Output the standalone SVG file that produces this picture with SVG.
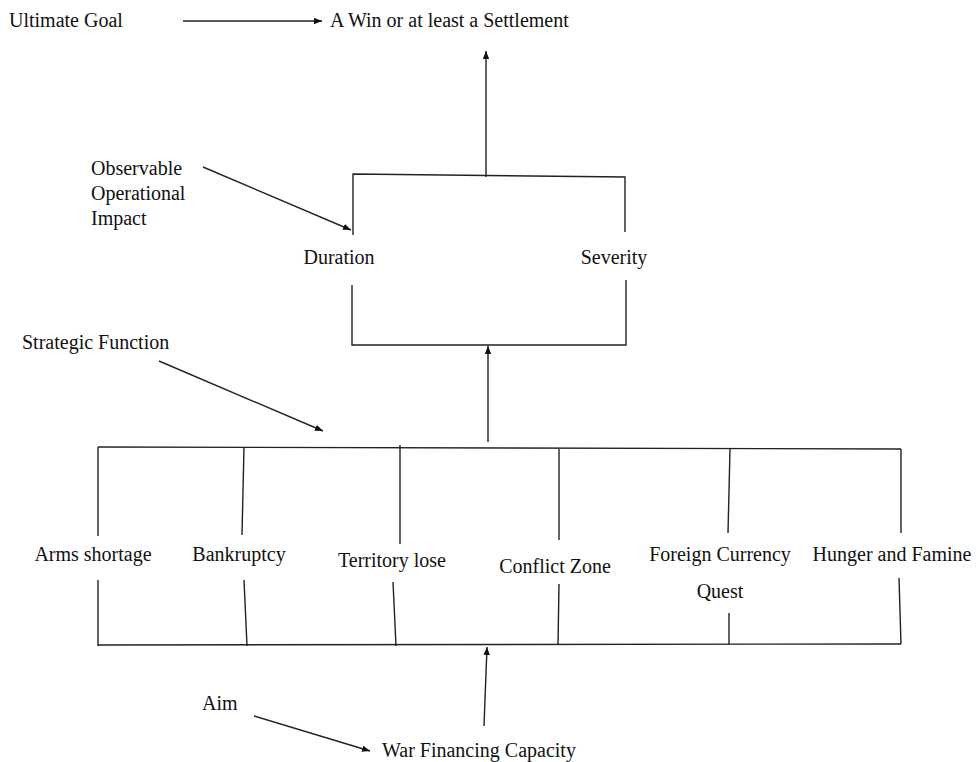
<svg xmlns="http://www.w3.org/2000/svg" width="978" height="762" viewBox="0 0 978 762">
<style>
text{font-family:"Liberation Serif","Times New Roman",serif;font-size:20px;fill:#111}
.c line,.c polyline{stroke:#222;stroke-width:1.4;fill:none}
.a{marker-end:url(#ah)}
</style>
<defs>
<marker id="ah" viewBox="0 0 10 8" refX="10" refY="4" markerWidth="8" markerHeight="6.4" markerUnits="userSpaceOnUse" orient="auto">
<path d="M0,0 L10,4 L0,8 Z" fill="#111"/>
</marker>
</defs>
<rect width="978" height="762" fill="#fff"/>
<g id="ultimate-goal"><text x="9" y="27">Ultimate Goal</text></g>
<g id="win"><text x="330" y="27">A Win or at least a Settlement</text></g>
<g id="observable"><text x="91" y="175">Observable</text><text x="91" y="200">Operational</text><text x="91" y="225">Impact</text></g>
<g id="duration"><text x="339" y="264" text-anchor="middle">Duration</text></g>
<g id="severity"><text x="614" y="264" text-anchor="middle">Severity</text></g>
<g id="strategic"><text x="22" y="349">Strategic Function</text></g>
<g id="arms"><text x="93" y="561" text-anchor="middle">Arms shortage</text></g>
<g id="bankruptcy"><text x="239" y="561" text-anchor="middle">Bankruptcy</text></g>
<g id="territory"><text x="392" y="567" text-anchor="middle">Territory lose</text></g>
<g id="conflict"><text x="555" y="573" text-anchor="middle">Conflict Zone</text></g>
<g id="foreign"><text x="720" y="561" text-anchor="middle">Foreign Currency</text><text x="720" y="598" text-anchor="middle">Quest</text></g>
<g id="hunger"><text x="892" y="561" text-anchor="middle">Hunger and Famine</text></g>
<g id="aim"><text x="202" y="710">Aim</text></g>
<g id="war"><text x="382" y="757">War Financing Capacity</text></g>
<g id="connectors" class="c">
<line class="a" x1="183" y1="21" x2="322" y2="21"/>
<line class="a" x1="486" y1="177" x2="486" y2="51"/>
<polyline points="353,235 353,174 625,177 625,232"/>
<line class="a" x1="203" y1="167" x2="351" y2="230"/>
<polyline points="352,285 352,345 626,345 626,280"/>
<line class="a" x1="488" y1="442" x2="488" y2="346"/>
<line class="a" x1="159" y1="361" x2="323" y2="431"/>
<line x1="98" y1="447" x2="901" y2="449"/>
<line x1="98" y1="447" x2="98" y2="536"/>
<line x1="244" y1="447" x2="242" y2="535"/>
<line x1="400" y1="445" x2="400" y2="544"/>
<line x1="559" y1="449" x2="559" y2="540"/>
<line x1="730" y1="449" x2="728" y2="533"/>
<line x1="901" y1="449" x2="901" y2="533"/>
<line x1="98" y1="645" x2="901" y2="644"/>
<line x1="98" y1="580" x2="98" y2="646"/>
<line x1="244" y1="580" x2="247" y2="646"/>
<line x1="393" y1="582" x2="396" y2="646"/>
<line x1="559" y1="584" x2="558" y2="645"/>
<line x1="729" y1="613" x2="729" y2="644"/>
<line x1="899" y1="578" x2="901" y2="644"/>
<line class="a" x1="484" y1="726" x2="487" y2="647"/>
<line class="a" x1="254" y1="716" x2="370" y2="751"/>
</g>
</svg>
